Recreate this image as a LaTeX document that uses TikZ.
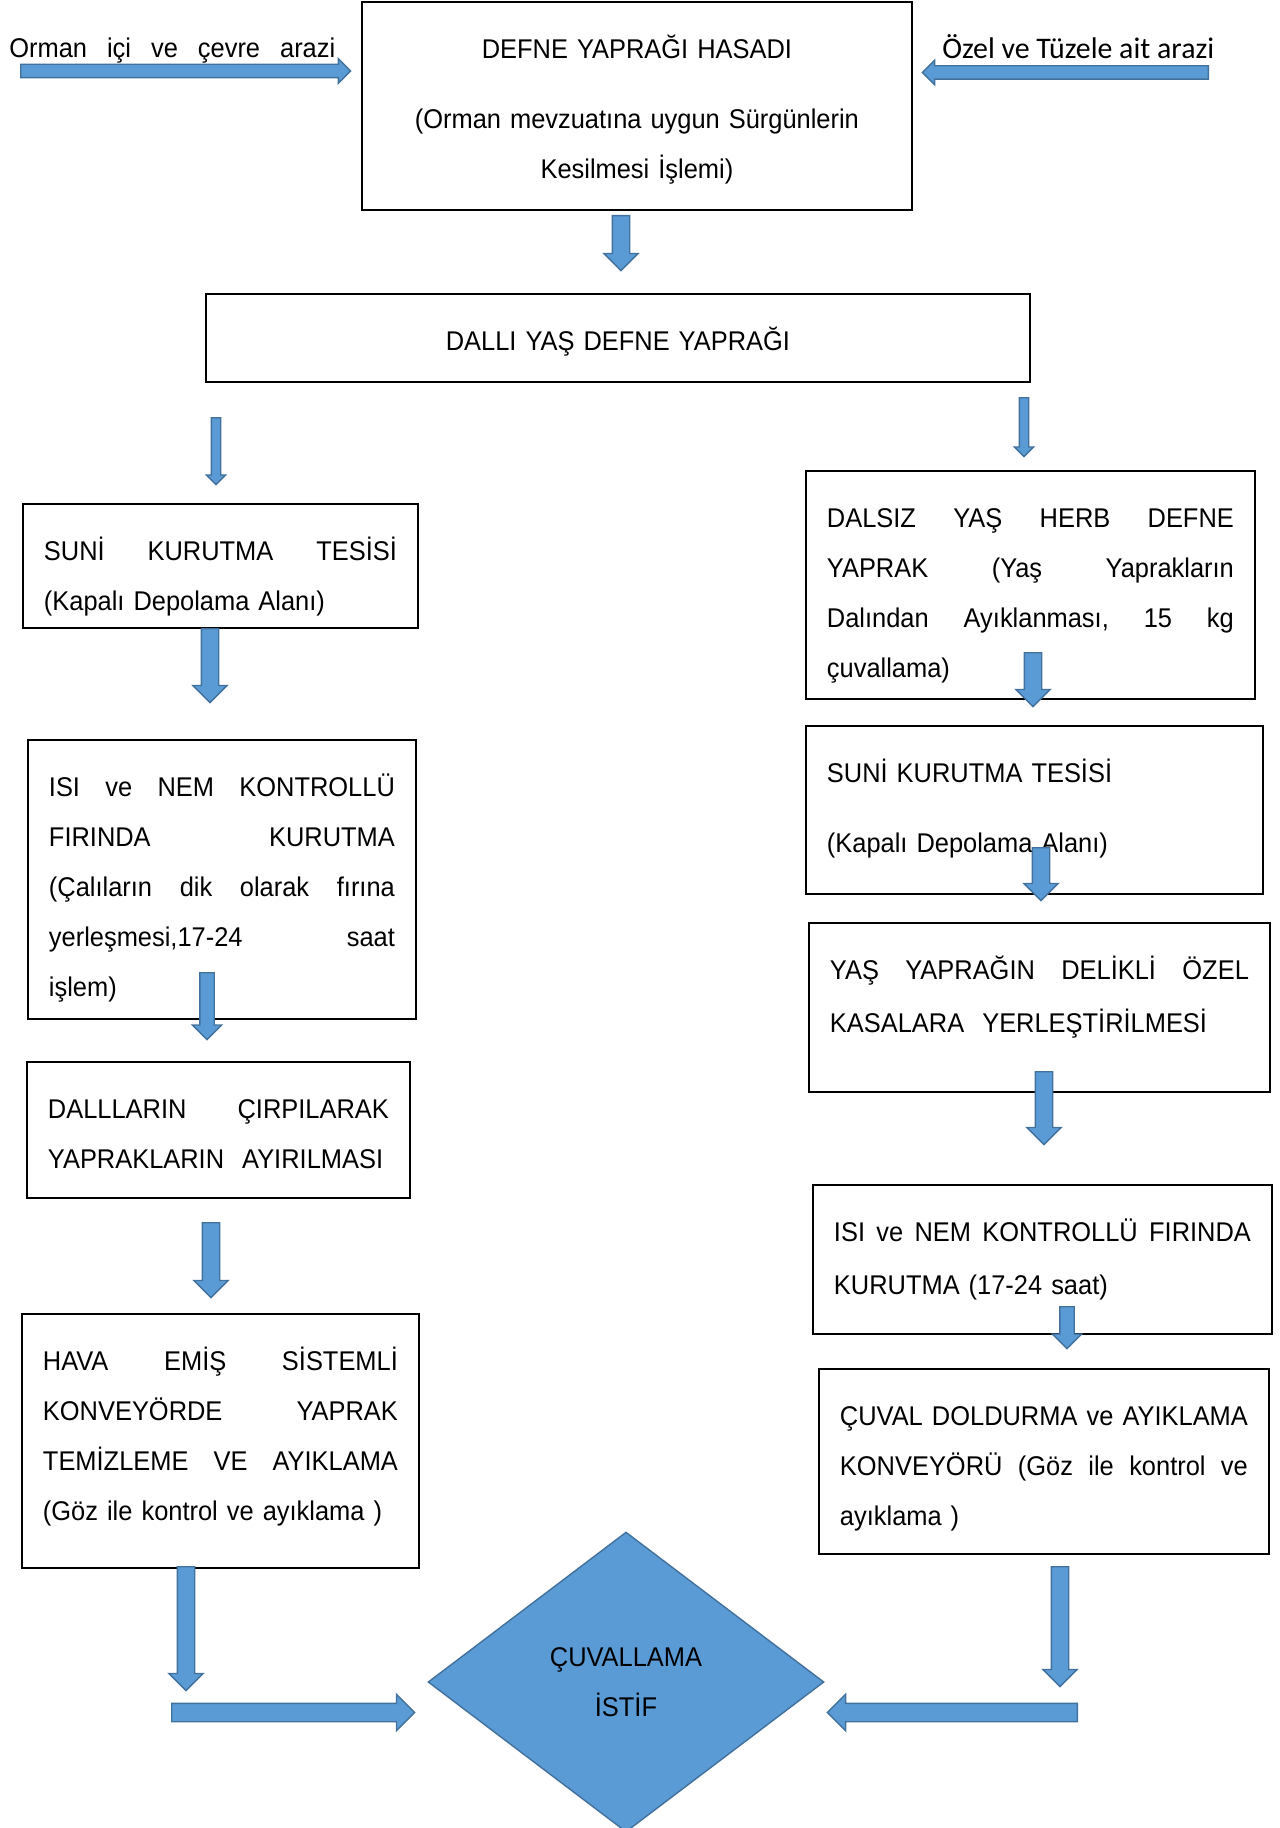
\documentclass[tikz,border=0pt]{standalone}
\usepackage{fontspec}
\setmainfont{Liberation Sans}[FakeStretch=0.94]
\newfontfamily\calibrifont{Carlito}
\usetikzlibrary{shapes.geometric, shapes.arrows, positioning}

\definecolor{okmavi}{HTML}{5B9BD5}
\definecolor{okcizgi}{HTML}{41719C}

\begin{document}
\begin{tikzpicture}[
      x=0.02cm, y=-0.02cm,
      font=\fontsize{15.4}{28.45}\selectfont,
      kutu/.style={rectangle, draw, line width=1.1pt, anchor=north west, inner xsep=0.42cm, inner ysep=0pt, text height=1.14cm, align=left},
      baslik/.style={kutu, align=center},
      blok/.style={single arrow, draw=okcizgi, fill=okmavi, line width=0.8pt, minimum width=0pt, anchor=tail},
      asagi/.style={shape border rotate=270},
      sola/.style={shape border rotate=180},
      ince/.style={inner sep=0.08cm, single arrow head extend=0.1cm},
      kucuk/.style={inner sep=0.13cm, single arrow head extend=0.15cm},
      orta/.style={inner sep=0.16cm, single arrow head extend=0.17cm},
      yatay/.style={inner sep=0.12cm, single arrow head extend=0.11cm},
      kalin/.style={inner sep=0.17cm, single arrow head extend=0.18cm},
      elmas/.style={diamond, draw=okcizgi, fill=okmavi, line width=0.8pt, inner sep=0pt, minimum width=7.92cm, minimum height=6cm, align=center}
    ]
    \useasboundingbox (0,0) rectangle (1279,1828);

    % hasat ve arazi
    \node[baslik, text width=10.16cm, text depth=3.02cm] (hasat) at (361,1) {DEFNE YAPRAĞI HASADI\\[0.4cm](Orman mevzuatına uygun Sürgünlerin\\Kesilmesi İşlemi)};
    \node[anchor=base west, inner sep=0pt, text width=6.52cm, align=left] (orman) at (9,58) {Orman\hfill içi\hfill ve\hfill çevre\hfill arazi};
    \node[anchor=base west, inner sep=0pt, font=\calibrifont\fontsize{17}{20}\selectfont] (ozel) at (942,59) {Özel ve Tüzele ait arazi};
    \node[baslik, text width=15.64cm, text depth=0.62cm] (dalli) at (205,293) {DALLI YAŞ DEFNE YAPRAĞI};

    % sol kol
    \node[kutu, text width=7.06cm, text depth=1.34cm] (sol1) at (22,503) {SUNİ\hfill KURUTMA\hfill TESİSİ\\(Kapalı Depolama Alanı)};
    \node[kutu, text width=6.92cm, text depth=4.44cm] (sol2) at (27,739) {ISI\hfill ve\hfill NEM\hfill KONTROLLÜ\\FIRINDA\hfill KURUTMA\\(Çalıların\hfill dik\hfill olarak\hfill fırına\\yerleşmesi,17-24\hfill saat\\işlem)};
    \node[kutu, text width=6.82cm, text depth=1.58cm] (sol3) at (26,1061) {DALLLARIN\hfill ÇIRPILARAK\\YAPRAKLARIN\ \ AYIRILMASI};
    \node[kutu, text width=7.1cm, text depth=3.94cm] (sol4) at (21,1313) {HAVA\hfill EMİŞ\hfill SİSTEMLİ\\KONVEYÖRDE\hfill YAPRAK\\TEMİZLEME\hfill VE\hfill AYIKLAMA\\(Göz ile kontrol ve ayıklama )};

    % sag kol
    \node[kutu, text width=8.14cm, text depth=3.42cm] (sag1) at (805,470) {DALSIZ\hfill YAŞ\hfill HERB\hfill DEFNE\\YAPRAK\hfill (Yaş\hfill Yaprakların\\Dalından\hfill Ayıklanması,\hfill 15\hfill kg\\çuvallama)};
    \node[kutu, text width=8.3cm, text depth=2.22cm] (sag2) at (805,725) {SUNİ KURUTMA TESİSİ\\[0.4cm](Kapalı Depolama Alanı)};
    \node[kutu, text width=8.38cm, text depth=2.24cm] (sag3) at (808,922) {YAŞ\hfill YAPRAĞIN\hfill DELİKLİ\hfill ÖZEL\\[0.06cm]KASALARA\ \ YERLEŞTİRİLMESİ};
    \node[kutu, text width=8.34cm, text depth=1.84cm] (sag4) at (812,1184) {ISI\hfill ve\hfill NEM\hfill KONTROLLÜ\hfill FIRINDA\\[0.06cm]KURUTMA (17-24 saat)};
    \node[kutu, text width=8.16cm, text depth=2.56cm] (sag5) at (818,1368) {ÇUVAL\hfill DOLDURMA\hfill ve\hfill AYIKLAMA\\KONVEYÖRÜ\hfill (Göz\hfill ile\hfill kontrol\hfill ve\\ayıklama )};

    \node[elmas] (cuval) at (626,1682) {ÇUVALLAMA\\İSTİF};

    % blok oklar
    \node[blok, yatay, minimum height=6.6cm] (okorman) at (20,71) {};
    \node[blok, yatay, sola, minimum height=5.72cm] (okozel) at (1209,72.5) {};
    \node[blok, orta, asagi, minimum height=1.1cm] (okhasat) at (621,215) {};
    \node[blok, ince, asagi, minimum height=1.34cm] (okdalsol) at (216,417) {};
    \node[blok, ince, asagi, minimum height=1.18cm] (okdalsag) at (1024,397) {};
    \node[blok, orta, asagi, minimum height=1.48cm] (oksol1) at (210,628) {};
    \node[blok, kucuk, asagi, minimum height=1.34cm] (oksol2) at (207,972) {};
    \node[blok, orta, asagi, minimum height=1.5cm] (oksol3) at (211,1222) {};
    \node[blok, orta, asagi, minimum height=2.48cm] (oksol4) at (186,1566) {};
    \node[blok, kalin, minimum height=4.86cm] (okaltsol) at (171,1712.5) {};
    \node[blok, orta, asagi, minimum height=1.08cm] (oksag1) at (1033,652) {};
    \node[blok, orta, asagi, minimum height=1.06cm] (oksag2) at (1041,847) {};
    \node[blok, orta, asagi, minimum height=1.46cm] (oksag3) at (1044,1071) {};
    \node[blok, kucuk, asagi, minimum height=0.84cm] (oksag4) at (1067,1306) {};
    \node[blok, orta, asagi, minimum height=2.4cm] (oksag5) at (1060,1566) {};
    \node[blok, kalin, sola, minimum height=5cm] (okaltsag) at (1078,1712.5) {};
  \end{tikzpicture}
\end{document}
